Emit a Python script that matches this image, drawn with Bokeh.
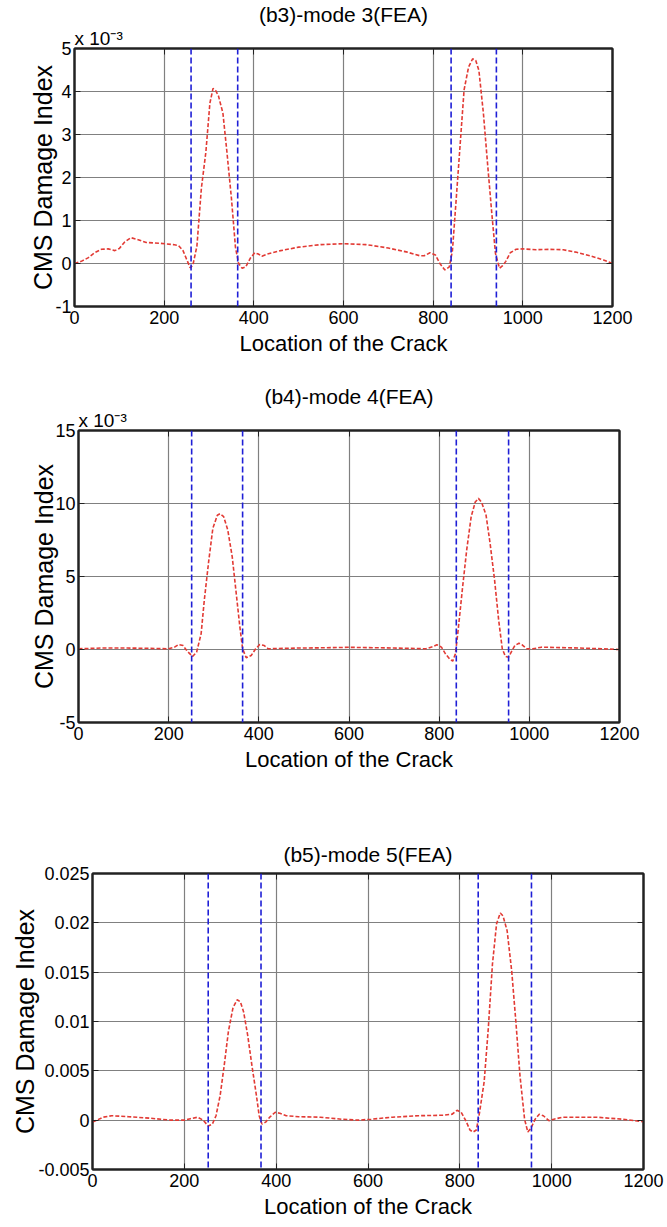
from bokeh.plotting import figure
from bokeh.models import Range1d, Span, LinearAxis, FixedTicker, CustomJSTickFormatter, Title
from bokeh.layouts import column, row
from bokeh.embed import file_html
from bokeh.resources import INLINE

# ---------------- data ----------------
x_ticks = [0, 200, 400, 600, 800, 1000, 1200]

# (b3) mode 3, values in units of 10^-3
b3_x = [0, 15, 30, 45, 60, 75, 90, 100, 112, 126, 140, 160, 190, 220, 232, 242, 250, 258,
        264, 273, 283, 293, 302, 309, 315, 321, 331, 340, 350, 359, 366, 374, 382, 392,
        402, 410, 418, 430, 460, 500, 550, 600, 650, 700, 740, 770, 780, 793, 805, 815,
        826, 836, 843, 850, 860, 869, 879, 888, 895, 902, 912, 921, 931, 939, 948, 955,
        962, 972, 985, 1000, 1030, 1060, 1090, 1120, 1150, 1180, 1200]
b3_y = [0.0, 0.05, 0.13, 0.25, 0.33, 0.34, 0.30, 0.35, 0.50, 0.60, 0.56, 0.49, 0.47, 0.44, 0.42, 0.30, 0.10, -0.10,
        -0.04, 0.40, 1.75, 2.59, 3.73, 4.07, 4.02, 3.90, 3.50, 2.59, 1.52, 0.38, 0.0, -0.11, -0.08, 0.12,
        0.25, 0.22, 0.17, 0.22, 0.30, 0.38, 0.44, 0.46, 0.44, 0.36, 0.27, 0.18, 0.18, 0.25, 0.20, 0.0,
        -0.15, -0.08, 0.30, 1.30, 2.74, 4.04, 4.57, 4.76, 4.72, 4.49, 3.50, 2.36, 1.14, 0.23, -0.11, -0.05,
        0.05, 0.25, 0.33, 0.34, 0.32, 0.33, 0.32, 0.26, 0.18, 0.08, 0.0]
b3_cracks = [260, 364, 840, 941]
b3_yticks = [-1, 0, 1, 2, 3, 4, 5]

# (b4) mode 4, values in units of 10^-3
b4_x = [0, 50, 109, 160, 199, 213, 222, 232, 241, 253, 262, 272, 279, 289, 298, 308, 314, 322,
        331, 341, 350, 358, 364, 372, 383, 393, 402, 412, 421, 487, 550, 601, 700, 771, 786,
        795, 805, 814, 823, 830, 836, 842, 852, 861, 871, 880, 887, 894, 904, 913, 923, 932,
        940, 947, 954, 961, 968, 977, 984, 994, 1008, 1027, 1112, 1160, 1200]
b4_y = [0.05, 0.1, 0.1, 0.08, 0.05, 0.16, 0.34, 0.27, -0.11, -0.48, -0.18, 1.08, 3.37, 6.1, 8.3, 9.2, 9.3, 9.1,
        8.2, 6.35, 3.8, 1.53, 0.05, -0.57, -0.41, 0.05, 0.34, 0.27, 0.05, 0.1, 0.12, 0.15, 0.1, 0.05, 0.2,
        0.32, 0.16, -0.3, -0.64, -0.8, -0.3, 1.3, 4.28, 6.8, 9.1, 10.1, 10.35, 10.1, 9.2, 7.26, 4.74, 2.0,
        0.05, -0.48, -0.53, -0.11, 0.27, 0.43, 0.32, 0.05, 0.05, 0.16, 0.1, 0.05, 0.0]
b4_cracks = [251, 364, 838, 954]
b4_yticks = [-5, 0, 5, 10, 15]

# (b5) mode 5
b5_x = [0, 23, 42, 79, 125, 171, 199, 213, 229, 241, 252, 261, 269, 278, 287, 296, 306, 315, 322,
        329, 338, 347, 357, 363, 369, 377, 386, 398, 408, 422, 449, 496, 542, 579, 607, 653,
        709, 764, 783, 794, 803, 813, 822, 829, 836, 843, 853, 862, 871, 880, 888, 894, 903,
        913, 922, 931, 941, 948, 955, 964, 973, 982, 994, 1005, 1024, 1098, 1153, 1200]
b5_y = [-0.0002, 0.0003, 0.00045, 0.00035, 0.0002, 0.0, 0.0, 0.00015, 0.0003, 0.0, -0.0006, -0.0004,
        0.00045, 0.0025, 0.0056, 0.009, 0.0114, 0.0122, 0.012, 0.011, 0.0086, 0.0056, 0.0025, 0.00045,
        -0.0004, -0.0002, 0.0003, 0.0008, 0.0007, 0.00045, 0.00035, 0.0003, 0.0001, 0.0, 0.0001, 0.0003,
        0.00045, 0.0005, 0.0006, 0.001, 0.0008, -0.00005, -0.001, -0.0012, -0.001, 0.0008, 0.0039, 0.0093,
        0.0158, 0.0199, 0.021, 0.0207, 0.0192, 0.0151, 0.01, 0.0045, 0.0001, -0.0012, -0.0008, 0.0001,
        0.0006, 0.00045, -0.00005, 0.0001, 0.0003, 0.0003, 0.0001, -0.00015]
b5_cracks = [252, 367, 840, 956]
b5_yticks = [-0.005, 0, 0.005, 0.01, 0.015, 0.02, 0.025]

assert len(b3_x) == len(b3_y)
assert len(b4_x) == len(b4_y)
assert len(b5_x) == len(b5_y)

FONT = "Liberation Sans"
W = 667


def make(title, xs, ys, cracks, yticks, height, borders, title_standoff, ylab_standoff, scale_note):
    top, bottom, left, right = borders
    p = figure(width=W, height=height, output_backend="svg", toolbar_location=None,
               x_range=Range1d(0, 1200), y_range=Range1d(yticks[0], yticks[-1]),
               min_border_top=top, min_border_bottom=bottom,
               min_border_left=left, min_border_right=right,
               title=None, background_fill_color="white", border_fill_color="white")

    p.outline_line_color = "#222222"
    p.outline_line_width = 2

    fmt = CustomJSTickFormatter(code="return tick.toString();")
    for ax, ticks in ((p.xaxis[0], x_ticks), (p.yaxis[0], yticks)):
        ax.ticker = FixedTicker(ticks=ticks)
        ax.formatter = fmt
        ax.major_tick_in = 6
        ax.major_tick_out = 0
        ax.minor_tick_line_color = None
        ax.axis_line_color = "#222222"
        ax.axis_line_width = 2
        ax.major_tick_line_color = "#222222"
        ax.major_label_text_font = FONT
        ax.major_label_text_font_size = "18px"
        ax.major_label_text_color = "black"
        ax.axis_label_text_font = FONT
        ax.axis_label_text_font_style = "normal"
        ax.axis_label_text_color = "black"

    p.xaxis.axis_label = "Location of the Crack"
    p.xaxis.axis_label_text_font_size = "22px"
    p.xaxis.major_label_standoff = 4
    p.xaxis.axis_label_standoff = 4
    p.yaxis.axis_label = "CMS Damage Index"
    p.yaxis.axis_label_text_font_size = "25px"
    p.yaxis.major_label_standoff = 3
    p.yaxis.axis_label_standoff = ylab_standoff

    for loc, ticks in (("above", x_ticks), ("right", yticks)):
        ax = LinearAxis(ticker=FixedTicker(ticks=ticks), major_tick_in=6, major_tick_out=0,
                        minor_tick_line_color=None, axis_line_color="#222222", axis_line_width=2,
                        major_tick_line_color="#222222", major_label_text_font_size="0px",
                        major_label_standoff=0, formatter=CustomJSTickFormatter(code="return '';"))
        p.add_layout(ax, loc)

    if scale_note:
        p.add_layout(Title(text="x 10\u207b\u00b3", align="left", offset=0, standoff=0,
                           text_font=FONT, text_font_size="19px", text_font_style="normal",
                           text_color="black"), "above")
    p.add_layout(Title(text=title, align="center", standoff=title_standoff,
                       text_font=FONT, text_font_size="21px", text_font_style="normal",
                       text_color="black"), "above")

    p.xgrid.ticker = FixedTicker(ticks=x_ticks)
    p.ygrid.ticker = FixedTicker(ticks=yticks)
    for g in (p.xgrid[0], p.ygrid[0]):
        g.grid_line_color = "#808080"
        g.grid_line_width = 1.2

    p.line(xs, ys, line_color="#e23a34", line_width=1.6, line_dash="4 2")

    for c in cracks:
        p.add_layout(Span(location=c, dimension="height", line_color="#1f1fd6",
                          line_width=1.6, line_dash="6 3"))
    return p


p1 = make("(b3)-mode 3(FEA)", b3_x, b3_y, b3_cracks, b3_yticks, 375, (44, 69, 74, 55), 0, -5, True)
p2 = make("(b4)-mode 4(FEA)", b4_x, b4_y, b4_cracks, b4_yticks, 415, (55, 68, 78, 48), 0, -6, True)
p3 = make("(b5)-mode 5(FEA)", b5_x, b5_y, b5_cracks, b5_yticks, 437, (83, 58, 92, 24), 15, -4, False)

layout = column(row(p1), row(p2), row(p3), spacing=0)
open("out.html", "w").write(file_html(layout, INLINE))
